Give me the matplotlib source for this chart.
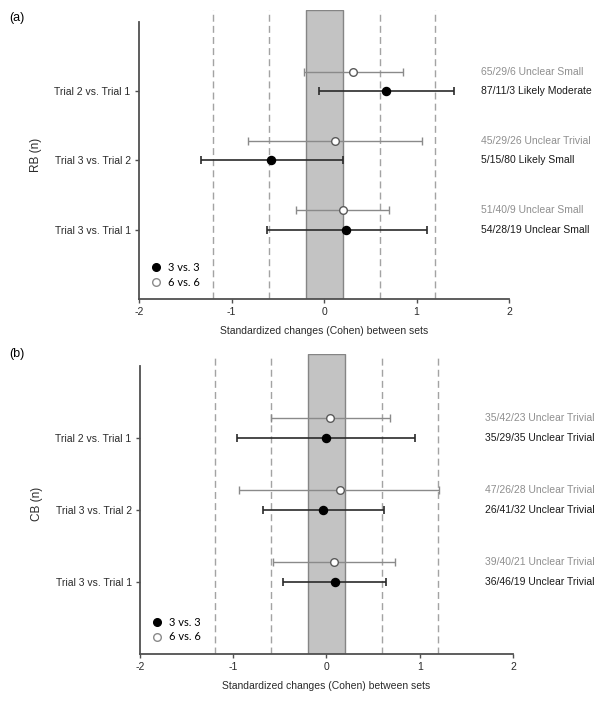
import matplotlib
matplotlib.use('Agg')
import matplotlib.pyplot as plt
from matplotlib.lines import Line2D
import numpy as np

plt.rcParams['font.family'] = ['Liberation Sans', 'DejaVu Sans']

# comparações (de cima para baixo)
rows = ['Trial 2 vs. Trial 1', 'Trial 3 vs. Trial 2', 'Trial 3 vs. Trial 1']
row_pos = [3, 2, 1]

# RB (n) - 3 vs. 3
rb_33_mean = [0.67, -0.57, 0.24]
rb_33_lo = [-0.05, -1.33, -0.62]
rb_33_hi = [1.40, 0.20, 1.11]
rb_33_text = ['87/11/3 Likely Moderate', '5/15/80 Likely Small', '54/28/19 Unclear Small']
# RB (n) - 6 vs. 6
rb_66_mean = [0.31, 0.12, 0.20]
rb_66_lo = [-0.22, -0.82, -0.30]
rb_66_hi = [0.85, 1.06, 0.70]
rb_66_text = ['65/29/6 Unclear Small', '45/29/26 Unclear Trivial', '51/40/9 Unclear Small']

# CB (n) - 3 vs. 3
cb_33_mean = [0.00, -0.035, 0.09]
cb_33_lo = [-0.96, -0.68, -0.47]
cb_33_hi = [0.95, 0.62, 0.64]
cb_33_text = ['35/29/35 Unclear Trivial', '26/41/32 Unclear Trivial', '36/46/19 Unclear Trivial']
# CB (n) - 6 vs. 6
cb_66_mean = [0.04, 0.14, 0.08]
cb_66_lo = [-0.60, -0.94, -0.57]
cb_66_hi = [0.68, 1.21, 0.74]
cb_66_text = ['35/42/23 Unclear Trivial', '47/26/28 Unclear Trivial', '39/40/21 Unclear Trivial']

trivial = [-0.2, 0.2]
thresholds = [-1.2, -0.6, 0.6, 1.2]
xticks = [-2, -1, 0, 1, 2]

offset = 0.28
fs = 7.5
gray_txt = '#8f8f8f'
dark_txt = '#1a1a1a'
axis_col = '#505050'


def painel(ax, ylabel, m33, lo33, hi33, t33, m66, lo66, hi66, t66):
    y = np.array(row_pos, dtype=float)
    ax.set_xlim(-2, 2)
    ax.set_ylim(0, 4.17)

    # zona trivial e limiares
    ax.axvspan(trivial[0], trivial[1], facecolor='#c3c3c3', edgecolor='#858585', lw=1, zorder=1)
    for t in thresholds:
        ax.axvline(t, color='#a3a3a3', lw=1, ls=(0, (5, 3)), zorder=1)

    m33 = np.array(m33); m66 = np.array(m66)
    err33 = [m33 - np.array(lo33), np.array(hi33) - m33]
    err66 = [m66 - np.array(lo66), np.array(hi66) - m66]

    ax.errorbar(m66, y + offset, xerr=err66, fmt='o', ms=5.5, mfc='white', mec='#5a5a5a',
                mew=1, ecolor='#8a8a8a', elinewidth=1, capsize=2.8, capthick=1, zorder=3)
    ax.errorbar(m33, y, xerr=err33, fmt='o', ms=5.8, mfc='black', mec='black',
                ecolor='#2a2a2a', elinewidth=1.2, capsize=2.8, capthick=1.2, zorder=3)

    for yi, a, b in zip(y, t66, t33):
        ax.text(1.70, yi + offset, a, color=gray_txt, fontsize=fs, va='center', ha='left')
        ax.text(1.70, yi, b, color=dark_txt, fontsize=fs, va='center', ha='left')

    ax.set_yticks(y)
    ax.set_yticklabels(rows, fontsize=fs, color='#2a2a2a')
    ax.set_xticks(xticks)
    ax.set_xticklabels([str(v) for v in xticks], fontsize=fs, color='#2a2a2a')
    ax.set_xlabel('Standardized changes (Cohen) between sets', fontsize=fs, color='#2a2a2a', labelpad=6)
    ax.set_ylabel(ylabel, fontsize=8.5, color='#2a2a2a', labelpad=9)

    for s in ['top', 'right']:
        ax.spines[s].set_visible(False)
    for s in ['left', 'bottom']:
        ax.spines[s].set_color(axis_col)
        ax.spines[s].set_linewidth(1.3)
    ax.spines['left'].set_bounds(0, 4.0)
    ax.tick_params(axis='both', color=axis_col, length=3, width=1, pad=3)

    handles = [Line2D([], [], ls='none', marker='o', ms=5.5, mfc='black', mec='black'),
               Line2D([], [], ls='none', marker='o', ms=5.5, mfc='white', mec='#8a8a8a')]
    ax.legend(handles, ['3 vs. 3', '6 vs. 6'], loc='lower left', bbox_to_anchor=(0.015, 0.02),
              frameon=False, handlelength=1, handletextpad=0.6, labelspacing=0.3,
              borderpad=0, prop={'family': 'Lato', 'size': 8})
    return ax


fig = plt.figure(figsize=(6, 7.03), dpi=100)
ax1 = fig.add_axes([0.2317, 0.5747, 0.6167, 0.411])
ax2 = fig.add_axes([0.2333, 0.0697, 0.6217, 0.4267])

painel(ax1, 'RB (n)', rb_33_mean, rb_33_lo, rb_33_hi, rb_33_text,
       rb_66_mean, rb_66_lo, rb_66_hi, rb_66_text)
painel(ax2, 'CB (n)', cb_33_mean, cb_33_lo, cb_33_hi, cb_33_text,
       cb_66_mean, cb_66_lo, cb_66_hi, cb_66_text)

fig.text(0.015, 0.97, '(a)', fontsize=9, color='black')
fig.text(0.015, 0.492, '(b)', fontsize=9, color='black')

plt.savefig('out.png', dpi=100)
